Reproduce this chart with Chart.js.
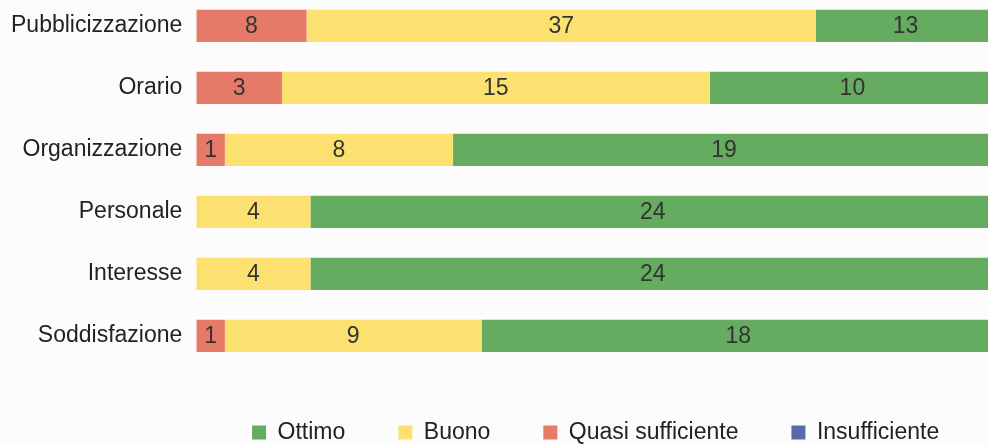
<!DOCTYPE html>
<html>
<head>
<meta charset="utf-8">
<script src="https://cdn.jsdelivr.net/npm/chart.js@4/dist/chart.umd.min.js"></script>
<style>
  html, body { margin: 0; padding: 0; background: #fcfcfc; overflow: hidden; width: 988px; height: 445px; }
  #wrap { position: absolute; left: 0; top: -33px; width: 995px; height: 489px; }
</style>
</head>
<body>
<div id="wrap"><canvas id="chart"></canvas></div>
<script>
// Dati del grafico
const categorie = ["Pubblicizzazione", "Orario", "Organizzazione", "Personale", "Interesse", "Soddisfazione"];
const insufficiente = [0, 0, 0, 0, 0, 0];
const quasiSufficiente = [8, 3, 1, 0, 0, 1];
const buono = [37, 15, 8, 4, 4, 9];
const ottimo = [13, 10, 19, 24, 24, 18];

// Totale per riga, per il grafico al 100%
const totali = categorie.map((_, i) => insufficiente[i] + quasiSufficiente[i] + buono[i] + ottimo[i]);
const percentuale = (serie) => serie.map((v, i) => (v / totali[i]) * 100);

const FONT = "'Liberation Sans', Arial, sans-serif";

// Etichette con i conteggi dentro le barre
const etichetteValori = {
  id: "etichetteValori",
  afterDatasetsDraw(chart) {
    const ctx = chart.ctx;
    ctx.save();
    ctx.font = "23px " + FONT;
    ctx.fillStyle = "#333";
    ctx.textAlign = "center";
    ctx.textBaseline = "middle";
    chart.data.datasets.forEach((ds, d) => {
      const meta = chart.getDatasetMeta(d);
      meta.data.forEach((bar, i) => {
        const v = ds.conteggi[i];
        if (!v) return;
        const p = bar.getCenterPoint();
        ctx.fillText(String(v), p.x, p.y + 1);
      });
    });
    ctx.restore();
  },
};

function disegna() {
  new Chart(document.getElementById("chart"), {
    type: "bar",
    data: {
      labels: categorie,
      datasets: [
        { label: "Insufficiente", data: percentuale(insufficiente), conteggi: insufficiente, backgroundColor: "#5a6aa8" },
        { label: "Quasi sufficiente", data: percentuale(quasiSufficiente), conteggi: quasiSufficiente, backgroundColor: "#e67a69" },
        { label: "Buono", data: percentuale(buono), conteggi: buono, backgroundColor: "#fce170" },
        { label: "Ottimo", data: percentuale(ottimo), conteggi: ottimo, backgroundColor: "#66ac60" },
      ],
    },
    options: {
      indexAxis: "y",
      responsive: true,
      maintainAspectRatio: false,
      animation: false,
      // le etichette dell'asse y contano il padding due volte, da qui il -3
      layout: { padding: { left: -3, right: 0, top: 0, bottom: 2 } },
      datasets: { bar: { categoryPercentage: 1, barPercentage: 0.52, borderWidth: 0 } },
      plugins: {
        tooltip: { enabled: false },
        legend: {
          position: "bottom",
          fullSize: false,
          reverse: true,
          labels: {
            boxWidth: 14,
            boxHeight: 14,
            padding: 53,
            color: "#222",
            font: { family: FONT, size: 23 },
          },
        },
      },
      scales: {
        // asse x nascosto: serve solo come spazio tra barre e legenda
        x: {
          stacked: true, min: 0, max: 100,
          ticks: { display: false },
          grid: { display: false, drawTicks: true, tickLength: 1 },
          border: { display: false },
        },
        y: {
          stacked: true,
          grid: { display: false, drawTicks: false },
          border: { display: false },
          ticks: {
            padding: 14,
            color: "#222",
            font: { family: FONT, size: 23 },
          },
        },
      },
    },
    plugins: [etichetteValori],
  });
}

// aspetta il font prima di misurare le etichette
if (document.fonts && document.fonts.load) {
  document.fonts.load("23px 'Liberation Sans'").then(disegna, disegna);
} else {
  disegna();
}
</script>
</body>
</html>
